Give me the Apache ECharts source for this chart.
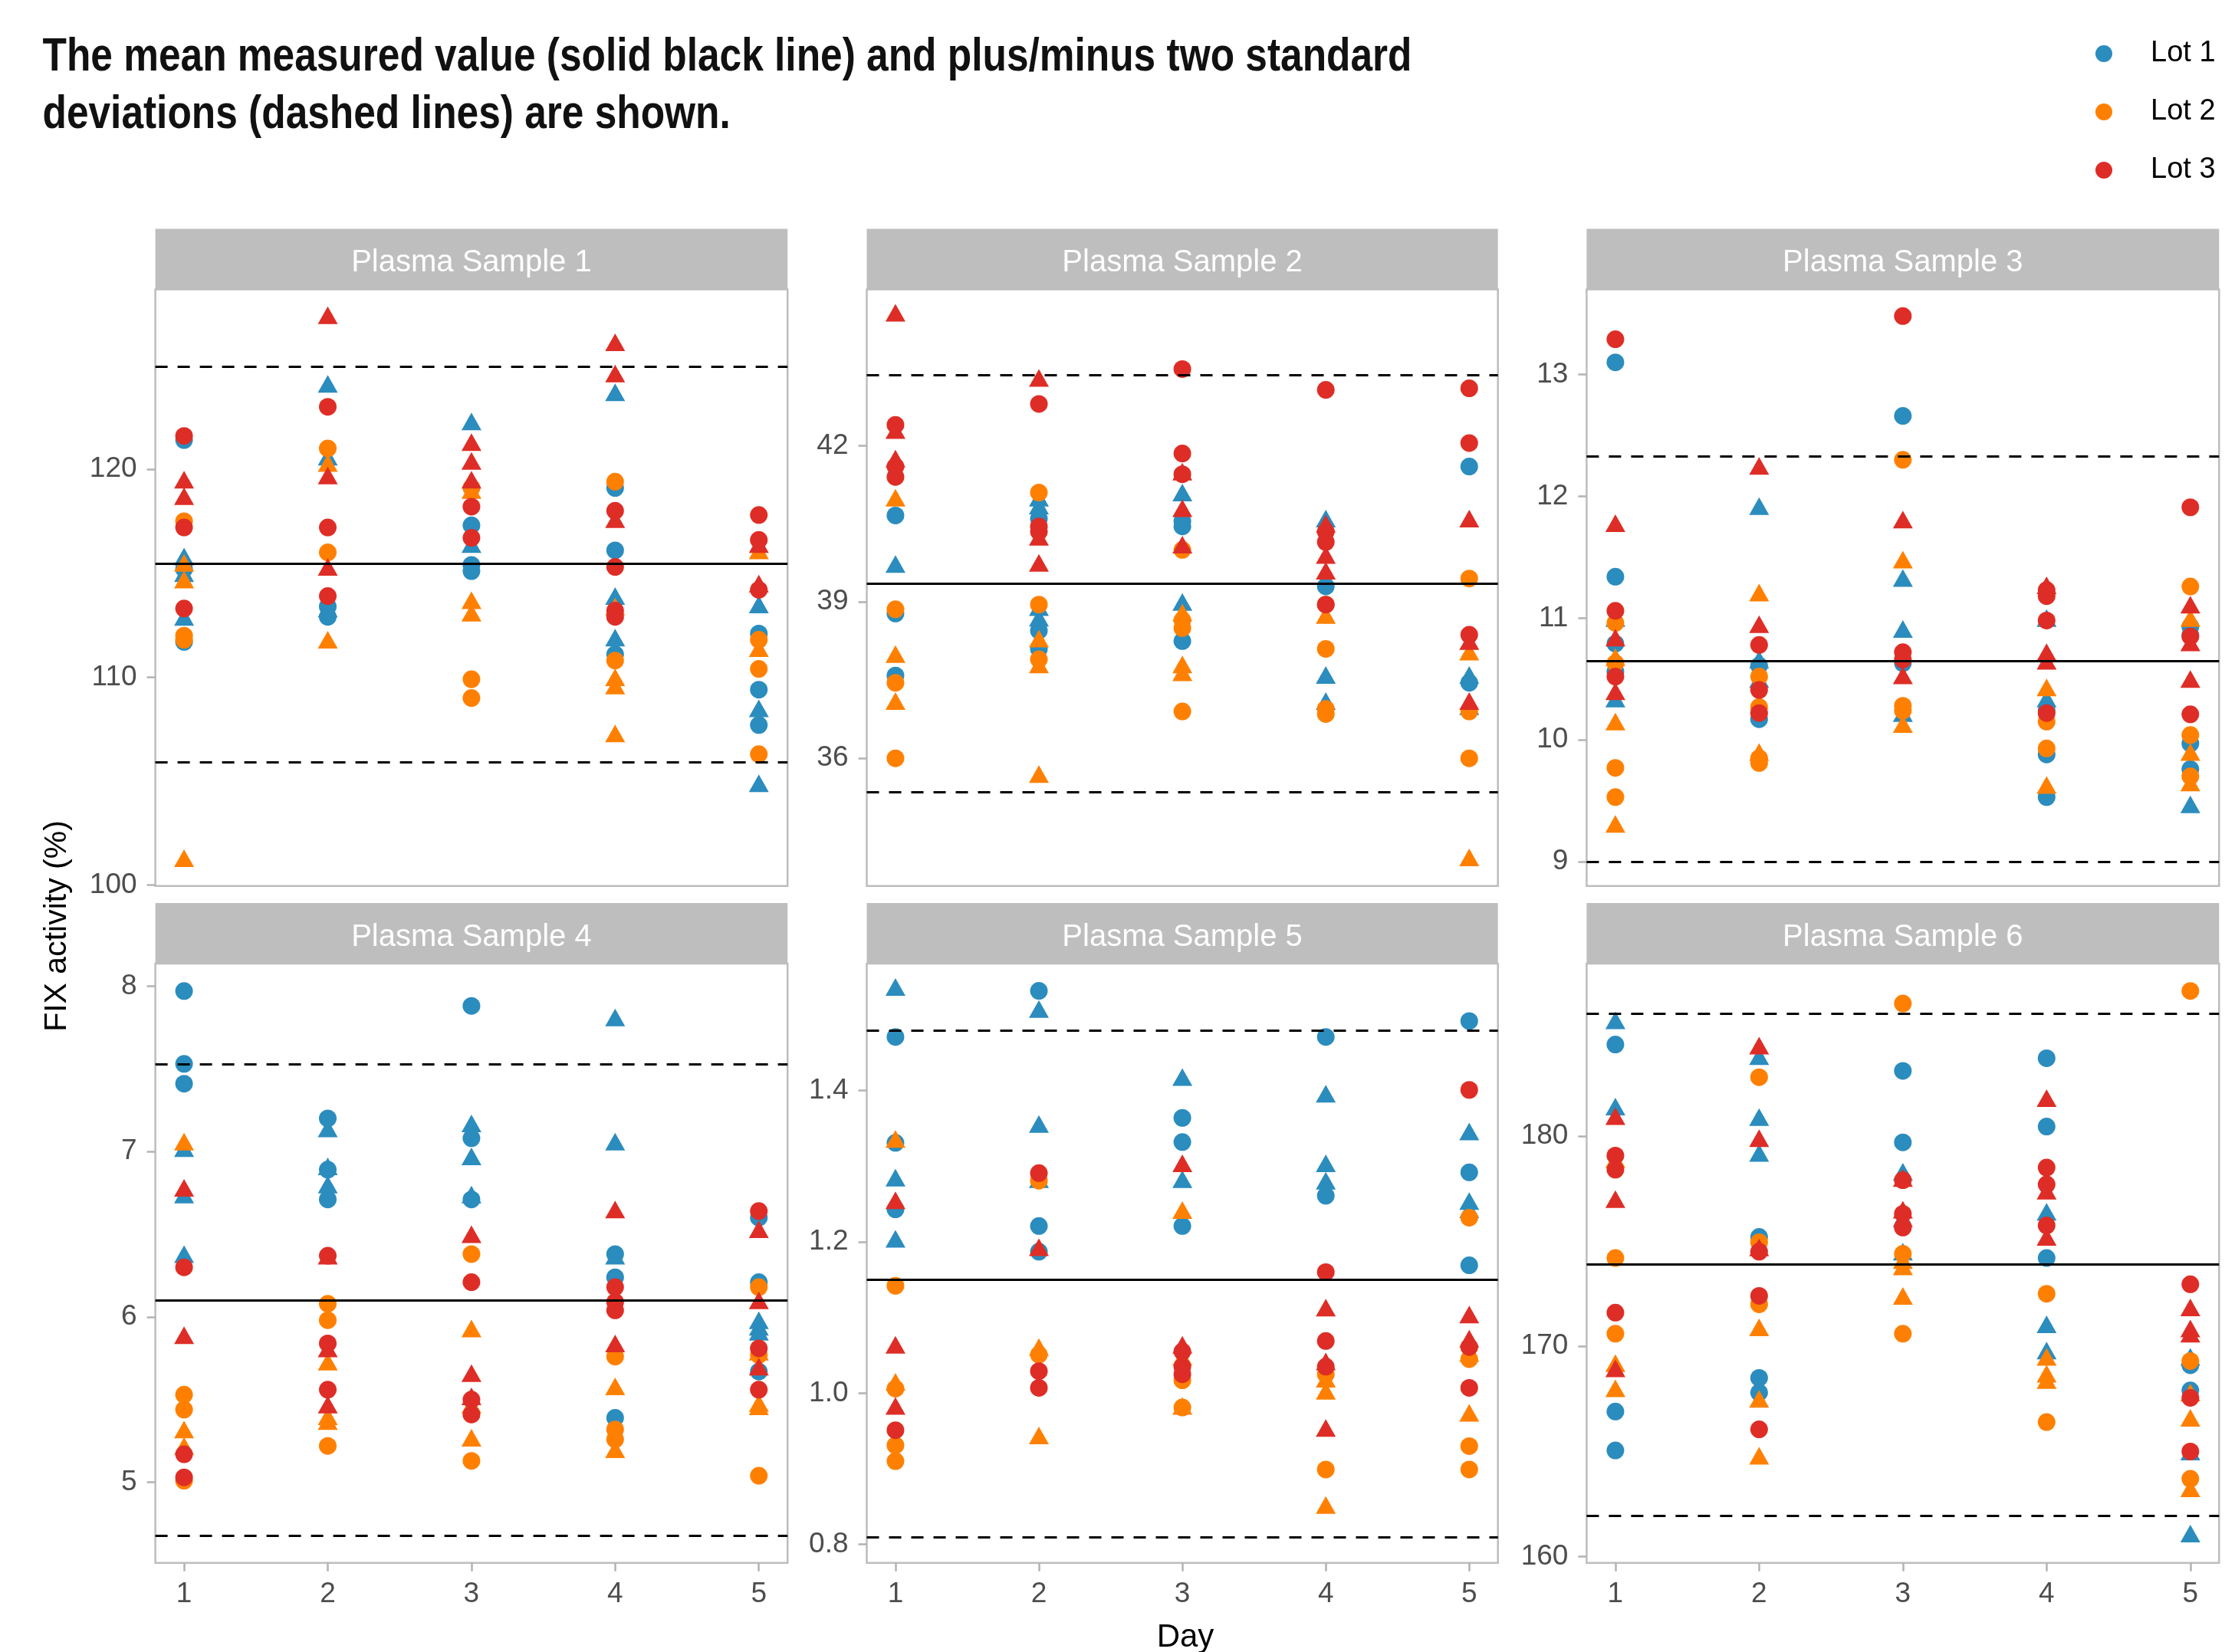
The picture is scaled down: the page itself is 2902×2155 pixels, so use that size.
<!DOCTYPE html>
<html><head><meta charset="utf-8">
<script src="https://cdn.jsdelivr.net/npm/echarts@6/dist/echarts.min.js"></script>
<style>html,body{margin:0;padding:0;background:#fff}#c{width:2902px;height:2155px}</style>
</head><body><div id="c"></div>
<script>
// ---------- categories / labels ----------
const days = [1, 2, 3, 4, 5];
const lots = ['Lot 1', 'Lot 2', 'Lot 3'];
const panelTitles = ['Plasma Sample 1', 'Plasma Sample 2', 'Plasma Sample 3', 'Plasma Sample 4', 'Plasma Sample 5', 'Plasma Sample 6'];
const titleLines = ['The mean measured value (solid black line) and plus/minus two standard', 'deviations (dashed lines) are shown.'];
const xTitle = 'Day';
const yTitle = 'FIX activity (%)';

// ---------- tick labels ----------
const yTicks = [[100, 110, 120], [36, 39, 42], [9, 10, 11, 12, 13], [5, 6, 7, 8], [0.8, 1.0, 1.2, 1.4], [160, 170, 180]];
const yDecimals = [0, 0, 0, 0, 1, 0];
const yMin = [99.96, 33.55, 8.80, 4.513, 0.7755, 159.7];
const yMax = [128.65, 45.0, 13.70, 8.136, 1.568, 188.2];

// ---------- reference lines ----------
const means = [115.45, 39.36, 10.655, 6.103, 1.147, 173.9];
const upper2sd = [124.93, 43.36, 12.33, 7.527, 1.481, 185.82];
const lower2sd = [105.92, 35.35, 9.0, 4.683, 0.812, 161.93];

// ---------- data: per day lists (day 1..5) ----------
// Plasma Sample 1
const s1_lot1_circ = [[121.4, 115.2, 111.7], [113.4, 112.9], [117.3, 115.4, 115.1], [119.1, 116.1, 111.1], [112.1, 109.4, 107.7]];
const s1_lot1_tri  = [[115.8, 115.0, 112.9], [124.1, 120.6, 113.3], [122.3, 116.4], [123.7, 113.9, 111.9], [113.5, 108.5, 104.9]];
const s1_lot2_circ = [[117.5, 112.0, 111.8], [121.0, 116.0], [119.1, 109.9, 109.0], [119.4, 110.8], [111.8, 110.4, 106.3]];
const s1_lot2_tri  = [[115.5, 114.7, 101.3], [120.3, 111.8], [119.0, 113.7, 113.1], [113.4, 110.0, 109.6, 107.3], [116.1, 111.4]];
const s1_lot3_circ = [[121.6, 117.2, 113.3], [123.0, 117.2, 113.9], [118.2, 116.7], [118.0, 115.3, 113.2, 112.9], [117.8, 116.6, 114.2]];
const s1_lot3_tri  = [[119.5, 118.7], [127.4, 119.7, 115.3], [121.3, 120.4, 119.5], [126.1, 124.6, 117.6], [116.4, 114.5]];
// Plasma Sample 2
const s2_lot1_circ = [[40.66, 38.78, 37.59], [40.6, 38.45, 38.1], [40.55, 40.45, 38.25], [39.3], [41.6, 37.45]];
const s2_lot1_tri  = [[39.73], [41.0, 40.85, 38.9, 38.7], [41.1, 39.0], [40.6, 37.6, 37.1], [37.6, 37.0]];
const s2_lot2_circ = [[38.86, 37.45, 36.0], [41.1, 38.95, 37.9], [40.0, 38.65, 38.5, 36.9], [38.95, 38.1, 36.95, 36.85], [39.45, 36.9, 36.0]];
const s2_lot2_tri  = [[41.0, 38.0, 37.1], [38.3, 37.8, 35.7], [38.8, 37.8, 37.65], [38.75], [38.05, 34.1]];
const s2_lot3_circ = [[42.4, 41.6, 41.4], [42.8, 40.45, 40.35], [43.47, 41.85, 41.45], [43.07, 40.35, 40.15, 38.95], [43.1, 42.05, 38.37]];
const s2_lot3_tri  = [[44.55, 42.3, 41.75], [43.3, 40.25, 39.75], [41.5, 40.8, 40.1], [40.5, 39.9, 39.6], [40.6, 38.25, 37.1]];
// Plasma Sample 3
const s3_lot1_circ = [[13.1, 11.34, 10.79, 10.56], [10.61, 10.17], [12.66, 10.63], [10.24, 9.88, 9.53], [10.93, 10.86, 9.97, 9.76]];
const s3_lot1_tri  = [[11.0, 10.34], [11.92, 10.66, 10.5], [11.33, 10.91, 10.22], [11.0, 10.34], [9.47]];
const s3_lot2_circ = [[10.96, 10.63, 9.77, 9.53], [10.52, 10.27, 9.85, 9.81], [12.3, 10.28, 10.24], [11.2, 10.15, 9.93], [11.26, 10.04, 9.7]];
const s3_lot2_tri  = [[10.68, 10.15, 9.31], [11.21, 9.9], [11.48, 10.13], [10.43, 9.63], [11.0, 9.9, 9.65]];
const s3_lot3_circ = [[13.29, 11.06, 10.52], [10.78, 10.41, 10.22], [13.48, 10.72, 10.66], [11.23, 11.18, 10.98, 10.22], [11.91, 10.85, 10.21]];
const s3_lot3_tri  = [[11.78, 10.84, 10.4], [12.25, 10.95], [11.81, 10.53], [11.27, 10.72, 10.65], [11.11, 10.8, 10.5]];
// Plasma Sample 4
const s4_lot1_circ = [[7.97, 7.53, 7.41], [7.2, 6.89, 6.71], [7.88, 7.08, 6.71], [6.38, 6.24, 5.39], [6.60, 6.21, 5.67]];
const s4_lot1_tri  = [[7.02, 6.74, 6.38], [7.14, 6.91, 6.80], [7.17, 6.97, 6.74], [7.81, 7.06, 6.37], [5.98, 5.94, 5.91]];
const s4_lot2_circ = [[5.53, 5.44, 5.01], [6.08, 5.98, 5.22], [6.38, 5.13], [5.76, 5.32, 5.26], [6.18, 5.77, 5.04]];
const s4_lot2_tri  = [[7.06, 5.32, 5.22], [5.73, 5.40, 5.37], [5.93, 5.47, 5.27], [5.58, 5.20], [5.79, 5.48, 5.46]];
const s4_lot3_circ = [[6.30, 5.17, 5.03], [6.37, 5.84, 5.56], [6.21, 5.50, 5.41], [6.18, 6.09, 6.04], [6.64, 5.81, 5.56]];
const s4_lot3_tri  = [[6.78, 5.89], [6.37, 5.81, 5.47], [6.50, 5.66, 5.52], [6.65, 5.84], [6.53, 6.10, 5.70]];
// Plasma Sample 5
const s5_lot1_circ = [[1.471, 1.331, 1.243], [1.532, 1.221, 1.187], [1.364, 1.332, 1.221], [1.471, 1.261], [1.492, 1.292, 1.169]];
const s5_lot1_tri  = [[1.537, 1.285, 1.204], [1.508, 1.356, 1.283], [1.418, 1.283], [1.396, 1.304, 1.281], [1.346, 1.254, 1.243]];
const s5_lot2_circ = [[1.142, 1.006, 0.931, 0.910], [1.281, 1.051], [1.017, 0.981], [1.025, 0.899], [1.232, 1.045, 0.930, 0.899]];
const s5_lot2_tri  = [[1.336, 1.015], [1.061, 0.944], [1.242, 1.048, 0.983], [1.019, 1.003, 0.852], [1.053, 0.974]];
const s5_lot3_circ = [[0.951], [1.291, 1.029, 1.007], [1.055, 1.035, 1.025], [1.160, 1.069, 1.035], [1.401, 1.061, 1.007]];
const s5_lot3_tri  = [[1.255, 1.064, 0.983], [1.193], [1.304, 1.064], [1.113, 1.042, 0.954], [1.104, 1.072]];
// Plasma Sample 6
const s6_lot1_circ = [[184.35, 166.9, 165.05], [175.2, 168.5, 167.8], [183.1, 179.7, 175.7], [183.7, 180.45, 174.2], [169.1, 167.9]];
const s6_lot1_tri  = [[185.5, 181.4], [183.8, 180.9, 179.2], [178.3, 174.5], [176.4, 171.05, 169.8], [169.5, 165.0, 161.1]];
const s6_lot2_circ = [[174.2, 170.6], [182.8, 174.95, 172.0], [186.3, 174.4, 170.6], [172.5, 166.4], [186.9, 169.3, 163.7]];
const s6_lot2_tri  = [[178.9, 169.2, 168.0], [170.9, 167.5, 164.8], [174.1, 173.8, 172.4], [169.5, 168.7, 168.4], [167.8, 166.6, 163.25]];
const s6_lot3_circ = [[179.07, 178.4, 171.6], [174.5, 172.4, 166.05], [177.9, 176.3, 175.65], [178.5, 177.7, 175.75], [172.95, 167.55, 165.0]];
const s6_lot3_tri  = [[180.95, 177.0, 168.95], [184.3, 179.9, 174.7], [178.0, 176.5, 176.1], [181.8, 177.4, 175.2], [171.85, 170.85, 170.6]];

const panelCirc = [
  [s1_lot1_circ, s1_lot2_circ, s1_lot3_circ], [s2_lot1_circ, s2_lot2_circ, s2_lot3_circ], [s3_lot1_circ, s3_lot2_circ, s3_lot3_circ],
  [s4_lot1_circ, s4_lot2_circ, s4_lot3_circ], [s5_lot1_circ, s5_lot2_circ, s5_lot3_circ], [s6_lot1_circ, s6_lot2_circ, s6_lot3_circ]];
const panelTri = [
  [s1_lot1_tri, s1_lot2_tri, s1_lot3_tri], [s2_lot1_tri, s2_lot2_tri, s2_lot3_tri], [s3_lot1_tri, s3_lot2_tri, s3_lot3_tri],
  [s4_lot1_tri, s4_lot2_tri, s4_lot3_tri], [s5_lot1_tri, s5_lot2_tri, s5_lot3_tri], [s6_lot1_tri, s6_lot2_tri, s6_lot3_tri]];

// ---------- layout & style ----------
const lotColors = ['#2B8CBE', '#FF8000', '#DE2D26'];
const colX = [[202.6, 1027.2], [1130.5, 1953.7], [2069.4, 2894.3]];
const rowY = [[377.4, 1155.8], [1257, 2038.8]];
const stripH = 79;
const axisFont = 'Liberation Sans';

function measure(text, font) {
  const ctx = document.createElement('canvas').getContext('2d');
  ctx.font = font;
  return ctx.measureText(text).width;
}
const toPoints = arr => arr.flatMap((vals, i) => vals.map(v => [days[i], v]));

const grids = [], xAxes = [], yAxes = [], series = [], graphics = [];
for (let p = 0; p < 6; p++) {
  const r = Math.floor(p / 3), c = p % 3;
  const L = colX[c][0], R = colX[c][1], T = rowY[r][0], B = rowY[r][1];
  const bottomRow = r === 1;
  grids.push({left: L, top: T, width: R - L, height: B - T, show: true, backgroundColor: '#fff', borderColor: '#BDBDBD', borderWidth: 2.5});
  xAxes.push({
    gridIndex: p, type: 'value', min: 0.8, max: 5.2,
    axisLine: {show: false}, splitLine: {show: false},
    axisTick: {show: bottomRow, customValues: days, length: 11, lineStyle: {color: '#B3B3B3', width: 2.5}},
    axisLabel: {show: bottomRow, customValues: days, fontSize: 37, fontFamily: axisFont, color: '#4D4D4D', margin: 22}
  });
  yAxes.push({
    gridIndex: p, type: 'value', min: yMin[p], max: yMax[p],
    axisLine: {show: false}, splitLine: {show: false},
    axisTick: {show: true, customValues: yTicks[p], length: 11, lineStyle: {color: '#B3B3B3', width: 2.5}},
    axisLabel: {customValues: yTicks[p], fontSize: 37, fontFamily: axisFont, color: '#4D4D4D', margin: 24,
      formatter: v => Number(v).toFixed(yDecimals[p])}
  });
  for (let l = 0; l < 3; l++) {
    series.push({type: 'scatter', name: lots[l], xAxisIndex: p, yAxisIndex: p, data: toPoints(panelCirc[p][l]),
      symbol: 'circle', symbolSize: 23, itemStyle: {color: lotColors[l], opacity: 1}, emphasis: {disabled: true}, z: 2});
    series.push({type: 'scatter', name: lots[l], xAxisIndex: p, yAxisIndex: p, data: toPoints(panelTri[p][l]),
      symbol: 'triangle', symbolSize: [26, 23], itemStyle: {color: lotColors[l], opacity: 1}, emphasis: {disabled: true}, z: 2});
  }
  series.push({type: 'scatter', name: 'ref', xAxisIndex: p, yAxisIndex: p, data: [], z: 5, silent: true,
    markLine: {silent: true, symbol: ['none', 'none'], label: {show: false}, animation: false,
      data: [
        {yAxis: means[p], lineStyle: {type: 'solid', width: 3, color: '#000'}},
        {yAxis: upper2sd[p], lineStyle: {type: [16, 13], width: 3, color: '#000'}},
        {yAxis: lower2sd[p], lineStyle: {type: [16, 13], width: 3, color: '#000'}}
      ]}});
  // facet strip
  graphics.push({type: 'rect', shape: {x: L, y: T - stripH, width: R - L, height: stripH}, style: {fill: '#BEBEBE'}, silent: true});
  graphics.push({type: 'text', x: (L + R) / 2, y: T - stripH / 2 + 5, silent: true,
    style: {text: panelTitles[p], font: '40px "Liberation Sans"', fill: '#FFFFFF', align: 'center', verticalAlign: 'middle', textAlign: 'center', textVerticalAlign: 'middle'}});
}

// title (condensed via horizontal scale)
const titleFont = 'bold 62px "Liberation Sans"';
const titleScale = 1786 / measure(titleLines[0], titleFont);
titleLines.forEach((t, i) => {
  graphics.push({type: 'text', x: 55.5, y: 44 + i * 75, scaleX: titleScale, silent: true,
    style: {text: t, font: titleFont, fill: '#111', align: 'left', verticalAlign: 'top', textAlign: 'left', textVerticalAlign: 'top'}});
});
// axis titles
graphics.push({type: 'text', x: 1546, y: 2136, silent: true,
  style: {text: xTitle, font: '42px "Liberation Sans"', fill: '#000', align: 'center', verticalAlign: 'middle', textAlign: 'center', textVerticalAlign: 'middle'}});
graphics.push({type: 'text', x: 75, y: 1208, rotation: Math.PI / 2, silent: true,
  style: {text: yTitle, font: '41px "Liberation Sans"', fill: '#000', align: 'center', verticalAlign: 'middle', textAlign: 'center', textVerticalAlign: 'middle'}});

const chart = echarts.init(document.getElementById('c'), null, {renderer: 'canvas'});
chart.setOption({
  animation: false,
  backgroundColor: '#fff',
  grid: grids, xAxis: xAxes, yAxis: yAxes, series: series,
  legend: {data: lots, orient: 'vertical', left: 2728, top: 46, itemWidth: 112, itemHeight: 22, itemGap: 38,
    icon: 'circle', selectedMode: false, textStyle: {fontSize: 38, fontFamily: 'Liberation Sans', color: '#000'}},
  graphic: graphics
});
</script></body></html>
